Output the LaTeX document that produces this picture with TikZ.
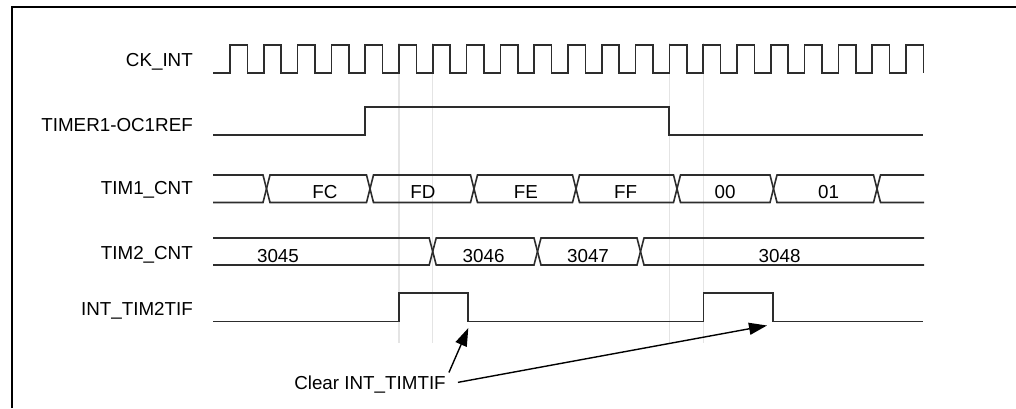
\documentclass[tikz,border=0pt]{standalone}
\usepackage{fontspec}
\setmainfont{Liberation Sans}
\usetikzlibrary{arrows.meta,positioning}
\definecolor{wavegray}{RGB}{45,45,45}
\definecolor{guidegray}{RGB}{228,228,228}

\begin{document}
\begin{tikzpicture}[
    x=1pt, y=-1pt,
    font=\fontsize{18.8}{22}\selectfont,
    signame/.style={anchor=base east, inner sep=0pt},
    value/.style={anchor=base, inner sep=0pt},
    wave/.style={draw=wavegray, line width=1.6pt},
    guide/.style={draw=guidegray, line width=1.2pt},
    pointer/.style={-{Triangle[length=18pt,width=12pt]}, line width=1.4pt}
]
    \useasboundingbox (0,0) rectangle (1016,408);

    % Frame
    \draw[line width=2.8pt] (12,408) -- (12,7) -- (1016,7);

    % Guide lines
    \foreach \gx in {399,432.8,669.4,703.2}
        \draw[guide] (\gx,43) -- (\gx,343);

    % Signal names
    \node[signame] (ckint) at (193,66.7) {CK\_INT};
    \node[signame] (ocref) at (193,131) {TIMER1-OC1REF};
    \node[signame] (timone) at (193,194) {TIM1\_CNT};
    \node[signame] (timtwo) at (193,259) {TIM2\_CNT};
    \node[signame] (tif) at (193,315) {INT\_TIM2TIF};

    % Clock
    \draw[wave] (213,73) foreach \k in {0,...,20} {
        -- ({230+33.8*\k},73) -- ++(0,-28) -- ++(17.4,0) -- ++(0,28) };

    % Output compare reference
    \draw[wave] (213,135) -- (365,135) -- (365,107) -- (669,107) -- (669,135) -- (923,135);

    % TIM1 counter bus
    \draw[wave] (213,175) -- (263,175) -- (266.5,188.75) -- (263,202.5) -- (213,202.5);
    \foreach \a/\b in {266.5/370,370/474,474/576,576/677,677/773.5,773.5/877}
        \draw[wave] (\a,188.75) -- (\a+3.5,175) -- (\b-3.5,175) -- (\b,188.75)
            -- (\b-3.5,202.5) -- (\a+3.5,202.5) -- cycle;
    \draw[wave] (924,175) -- (880.5,175) -- (877,188.75) -- (880.5,202.5) -- (924,202.5);
    \node[value] (fc) at (325,198.5) {FC};
    \node[value] (fd) at (423,198.5) {FD};
    \node[value] (fe) at (526,198.5) {FE};
    \node[value] (ff) at (625.5,198.5) {FF};
    \node[value] (zz) at (725,198.5) {00};
    \node[value] (zo) at (828.5,198.5) {01};

    % TIM2 counter bus
    \draw[wave] (213,238) -- (429.2,238) -- (432.7,251.5) -- (429.2,265) -- (213,265);
    \foreach \a/\b in {432.7/537.5,537.5/640.5}
        \draw[wave] (\a,251.5) -- (\a+3.5,238) -- (\b-3.5,238) -- (\b,251.5)
            -- (\b-3.5,265) -- (\a+3.5,265) -- cycle;
    \draw[wave] (924,238) -- (644,238) -- (640.5,251.5) -- (644,265) -- (924,265);
    \node[value] (vfive) at (278,262.3) {3045};
    \node[value] (vsix) at (483.6,262.3) {3046};
    \node[value] (vseven) at (588,262.3) {3047};
    \node[value] (veight) at (779.6,262.3) {3048};

    % Interrupt flag
    \draw[wave] (213,321.5) -- (399,321.5) -- (399,293) -- (467.7,293) -- (467.7,321.5)
        -- (703.4,321.5) -- (703.4,293) -- (773,293) -- (773,321.5) -- (923,321.5);

    % Clear annotation
    \node[value] (clear) at (370,389.3) {Clear INT\_TIMTIF};
    \coordinate (clrfirst) at (468.3,328);
    \coordinate (clrsecond) at (767,325.5);
    \draw[pointer] ([xshift=3pt,yshift=3pt]clear.north east) -- (clrfirst);
    \draw[pointer] ([xshift=12pt,yshift=2pt]clear.east) -- (clrsecond);
\end{tikzpicture}
\end{document}
